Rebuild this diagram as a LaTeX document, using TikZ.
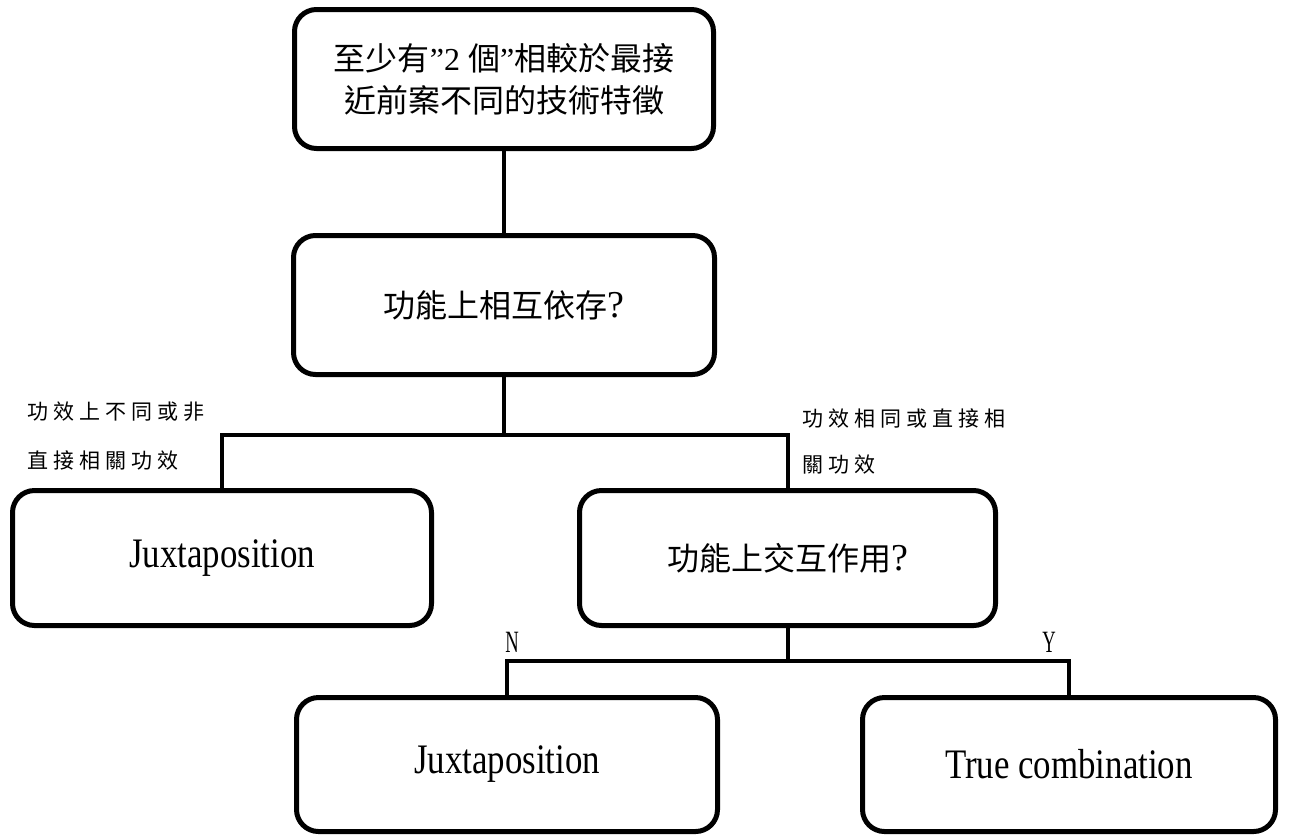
\documentclass[tikz,border=0pt]{standalone}
\usepackage{fontspec}
\setmainfont{Liberation Serif}
\newfontfamily\cjk{Noto Sans CJK TC}
\newfontfamily\cjklab[LetterSpace=24]{Noto Sans CJK TC}
\usetikzlibrary{calc}

\newcommand{\boxcjk}{\cjk\fontsize{32}{42}\selectfont}
\newcommand{\latinbig}[1]{\scalebox{0.83}[1]{\fontsize{42}{42}\selectfont #1}}
\newcommand{\labfont}{\cjklab\fontsize{21}{21}\selectfont}
\newcommand{\ynlabel}[1]{\scalebox{0.6}[1]{\fontsize{31}{31}\selectfont #1}}

\tikzset{
  box/.style={draw, line width=5pt, rounded corners=22pt, inner sep=0pt, align=center},
  cjkbox/.style={box, font=\boxcjk},
  link/.style={line width=4pt, line join=miter},
  lab/.style={anchor=west, inner sep=0pt, font=\labfont},
  yn/.style={inner sep=0pt}
}

\begin{document}
\begin{tikzpicture}[x=1pt, y=-1pt]
  \useasboundingbox (0,0) rectangle (1289,836);

  % boxes
  \node[cjkbox, minimum width=419pt, minimum height=139pt] (top) at (504,79)
    {至少有{\rmfamily ”2 }個{\rmfamily ”}相較於最接\\近前案不同的技術特徵};
  \node[cjkbox, minimum width=421pt, minimum height=139pt] (dep) at (504,305)
    {功能上相互依存{\rmfamily\fontsize{38}{42}\selectfont ?}};
  \node[box, minimum width=419pt, minimum height=135pt] (jux1) at (222,558)
    {\latinbig{Juxtaposition}};
  \node[cjkbox, minimum width=416pt, minimum height=135pt] (inter) at (787.5,558)
    {功能上交互作用{\rmfamily\fontsize{38}{42}\selectfont ?}};
  \node[box, minimum width=421pt, minimum height=134pt] (jux2) at (507,764.5)
    {\latinbig{Juxtaposition}};
  \node[box, minimum width=413pt, minimum height=134pt] (true) at (1069,764.5)
    {\latinbig{True combination}};

  % junction levels
  \coordinate (j1) at (503,435);
  \coordinate (j2) at (787,661);

  % connectors
  \draw[link] (top.south) -- (dep.north);
  \draw[link] (dep.south) -- (dep.south |- j1);
  \draw[link] (jux1.north) |- (inter.north |- j1) -- (inter.north);
  \draw[link] (inter.south) -- (inter.south |- j2);
  \draw[link] (jux2.north) |- (true.north |- j2) -- (true.north);

  % branch labels
  \node[lab] (l1a) at (27,412) {功效上不同或非};
  \node[lab] (l1b) at (27,460) {直接相關功效};
  \node[lab] (l2a) at (802,418) {功效相同或直接相};
  \node[lab] (l2b) at (802,465) {關功效};
  \node[yn] (n) at (512,642) {\ynlabel{N}};
  \node[yn] (y) at (1049,642) {\ynlabel{Y}};
\end{tikzpicture}
\end{document}
